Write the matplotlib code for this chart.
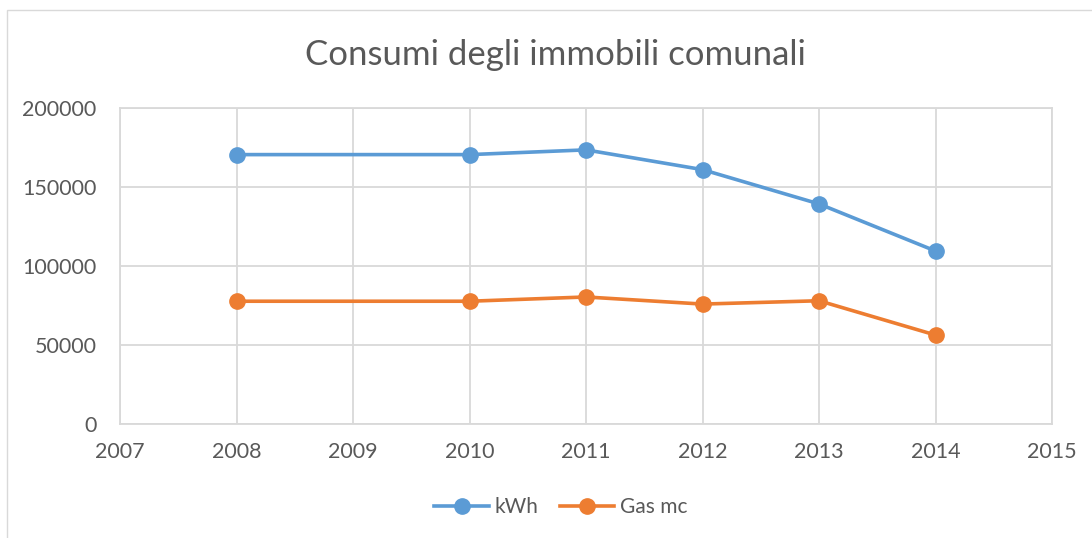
import matplotlib.pyplot as plt
from matplotlib.patches import Rectangle

years = [2008, 2010, 2011, 2012, 2013, 2014]
kwh = [170500, 170500, 173500, 161000, 139300, 109500]
gas = [77700, 77700, 80400, 75900, 78000, 56300]

plt.rcParams['font.family'] = ['Lato', 'DejaVu Sans']
grey = '#595959'

fig = plt.figure(figsize=(10.92, 5.38), dpi=100)
fig.patches.append(Rectangle((7/1092, -0.01), 1.1, 1 - 10/538 + 0.01,
                             transform=fig.transFigure, fill=False,
                             edgecolor='#d9d9d9', linewidth=1))
ax = fig.add_axes([120/1092, 114/538, 932/1092, 316/538])

ax.plot(years, kwh, color='#5b9bd5', lw=2.6, marker='o', ms=11, label='kWh', zorder=3)
ax.plot(years, gas, color='#ed7d31', lw=2.6, marker='o', ms=11, label='Gas mc', zorder=3)

ax.set_xlim(2007, 2015)
ax.set_ylim(0, 200000)
ax.set_xticks(range(2007, 2016))
ax.set_yticks(range(0, 200001, 50000))
ax.grid(True, color='#d9d9d9', lw=1.3)
ax.set_axisbelow(True)
for s in ax.spines.values():
    s.set_color('#d9d9d9')
    s.set_linewidth(1.3)
ax.tick_params(length=0, labelsize=15.5, colors=grey)
ax.tick_params(axis='y', pad=17)
ax.tick_params(axis='x', pad=13)

fig.text(555/1092, 1 - 55/538, 'Consumi degli immobili comunali', ha='center', va='center',
         fontsize=25, color=grey)
fig.legend(loc='center', bbox_to_anchor=(561/1092, 1 - 507/538), ncol=2, frameon=False,
           fontsize=15, labelcolor=grey, handlelength=2.6, handletextpad=0.3, columnspacing=1.0)

fig.savefig('out.png')
